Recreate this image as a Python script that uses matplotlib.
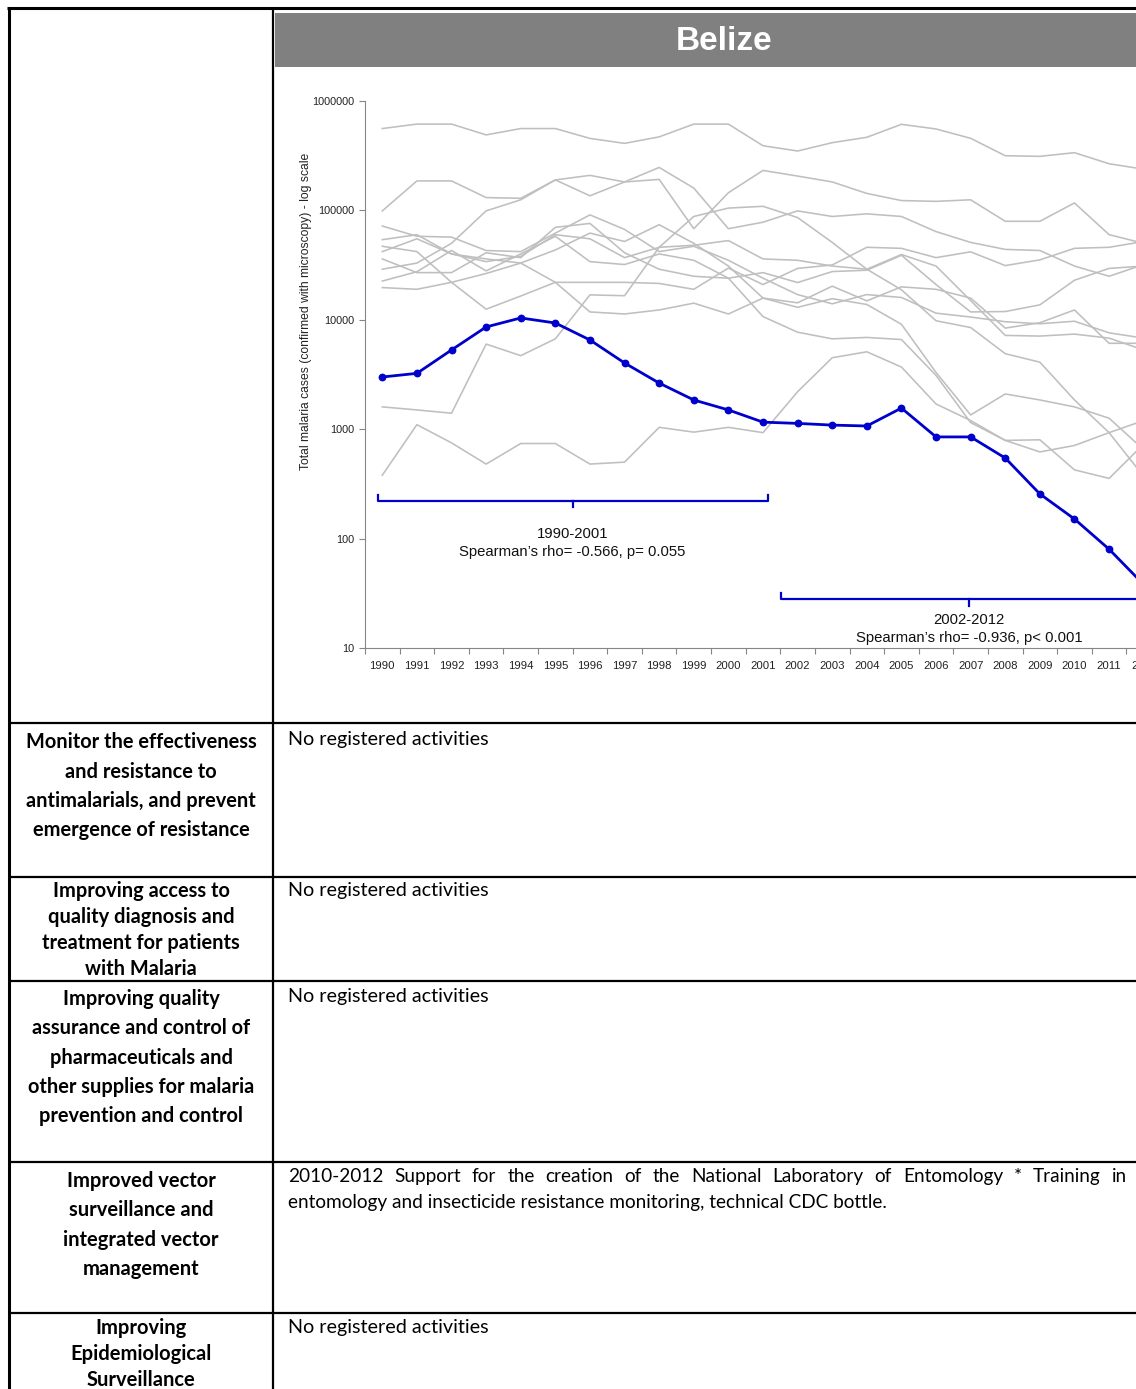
import numpy as np
import matplotlib.pyplot as plt
from matplotlib.patches import Rectangle

W, H = 1136, 1389

years = list(range(1990, 2013))

# Belize, confirmed malaria cases
belize = [3000, 3240, 5300, 8600, 10400, 9350, 6540, 4030, 2640, 1850, 1500, 1160,
          1130, 1090, 1070, 1560, 850, 850, 545, 256, 151, 80, 38]

# other countries of the region (grey background lines)
brazil = [560000, 615000, 615000, 490000, 560000, 560000, 455000, 410000, 470000, 615000, 615000, 390000,
          349000, 416000, 466000, 612000, 555000, 456000, 316000, 312000, 337000, 267000, 238000]
colombia = [99000, 186000, 186000, 131000, 129000, 190000, 136000, 182000, 192000, 68000, 145000, 232000,
            206000, 182000, 143000, 123000, 121000, 125000, 79500, 79500, 117000, 60000, 50000]
peru = [29000, 33000, 50000, 99000, 125000, 190000, 209000, 182000, 247000, 160000, 68000, 78000,
        99000, 88000, 93000, 88000, 64000, 51000, 44000, 43000, 31000, 25000, 32000]
ecuador = [1600, 1500, 1400, 6000, 4700, 6700, 16900, 16600, 46000, 88000, 105000, 109000,
           86000, 51000, 29000, 18800, 9800, 8500, 4900, 4100, 1850, 930, 370]
venezuela = [47000, 42000, 22000, 12500, 16500, 22000, 22000, 22000, 21500, 19000, 29700, 21000,
             29500, 31700, 46000, 45000, 37000, 41800, 31300, 35300, 45000, 46000, 52000]
guyana = [22600, 27500, 43000, 28000, 40000, 58000, 34000, 32000, 40000, 35000, 24000, 27000,
          21900, 27600, 28400, 38900, 21000, 11800, 11900, 13700, 23000, 29500, 31000]
bolivia = [19700, 19000, 22000, 26500, 33000, 43500, 62000, 52000, 74000, 50000, 31000, 15800,
           14300, 20300, 14900, 20000, 19000, 15800, 8400, 9400, 12300, 6100, 6100]
honduras = [72000, 58000, 57000, 43000, 42000, 62000, 91000, 67000, 42000, 47000, 35000, 24000,
            17000, 14000, 17000, 16000, 11500, 10600, 9600, 9200, 9700, 7600, 6800]
guatemala = [42000, 55000, 40000, 34000, 38000, 60000, 55000, 37000, 46000, 48000, 53000, 36000,
             35000, 31000, 29000, 39500, 31000, 15000, 7200, 7100, 7400, 6800, 5300]
nicaragua = [36000, 27000, 27000, 41000, 37000, 70000, 76000, 41000, 29000, 25000, 24000, 10700,
             7700, 6700, 6900, 6600, 3100, 1150, 790, 620, 710, 930, 1200]
suriname = [54000, 60000, 40000, 36000, 33000, 22000, 11800, 11300, 12300, 14200, 11300, 15800,
            13000, 15600, 13800, 9100, 3300, 1350, 2100, 1850, 1600, 1260, 650]
panama = [380, 1100, 750, 480, 740, 740, 480, 500, 1040, 940, 1040, 930,
          2200, 4500, 5100, 3700, 1700, 1200, 790, 800, 425, 355, 730]

grey_lines = [brazil, colombia, peru, ecuador, venezuela, guyana, bolivia,
              honduras, guatemala, nicaragua, suriname, panama]

country = "Belize"
ylabel = "Total malaria cases (confirmed with microscopy) - log scale"
period1 = ("1990-2001", "Spearman\u2019s rho= -0.566, p= 0.055")
period2 = ("2002-2012", "Spearman\u2019s rho= -0.936, p< 0.001")

objectives = [
    ["Monitor the effectiveness", "and resistance to", "antimalarials, and prevent", "emergence of resistance"],
    ["Improving access to", "quality diagnosis and", "treatment for patients", "with Malaria"],
    ["Improving quality", "assurance and control of", "pharmaceuticals and", "other supplies for malaria",
     "prevention and control"],
    ["Improved vector", "surveillance and", "integrated vector", "management"],
    ["Improving", "Epidemiological", "Surveillance"],
]
activities = [
    ["No registered activities"],
    ["No registered activities"],
    ["No registered activities"],
    ["2010-2012 Support for the creation of the National Laboratory of Entomology * Training in",
     "entomology and insecticide resistance monitoring, technical CDC bottle."],
    ["No registered activities"],
]

fig = plt.figure(figsize=(W / 100, H / 100), dpi=100)

# page layer in pixel units for the table
pg = fig.add_axes([0, 0, 1, 1])
pg.set_xlim(0, W)
pg.set_ylim(H, 0)
pg.axis("off")

pg.add_patch(Rectangle((275, 13), W - 275, 54, color="#808080", lw=0))
pg.text(724, 41, country, ha="center", va="center", color="white", fontsize=24,
        fontweight="bold", family="Liberation Sans")

rows_y = [723, 877, 981, 1162, 1313]
pg.plot([7, W], [8, 8], color="black", lw=2.2, solid_capstyle="butt")
pg.plot([9, 9], [7, H], color="black", lw=2.2, solid_capstyle="butt")
pg.plot([273, 273], [8, H], color="black", lw=1.6, solid_capstyle="butt")
for y in rows_y:
    pg.plot([9, W], [y, y], color="black", lw=1.6, solid_capstyle="butt")

fam = ["Lato", "DejaVu Sans"]

# left column: objectives (bold, centred)
line_gap = [29.5, 26, 29.3, 29.3, 26]
first_y = [742, 891, 999, 1181, 1328]
obj_size = [14.4, 14.4, 14.4, 14.5, 14.5]
for i, lines in enumerate(objectives):
    for k, s in enumerate(lines):
        pg.text(141, first_y[i] + k * line_gap[i], s, ha="center", va="center",
                fontsize=obj_size[i], fontweight="bold", family=fam)

# right column: activities, placed on a common baseline
fig.canvas.draw()
rend = fig.canvas.get_renderer()
act_y = [740, 891, 997, 1177, 1328]
for i, lines in enumerate(activities):
    size = 13.7 if i == 3 else 14.2
    base = size * 100 / 72 * 0.275
    for k, s in enumerate(lines):
        y = act_y[i] + k * 26 + base
        if i == 3 and k == 0:
            # justified line: spread the words between the cell margins
            words = s.split()
            arts = [pg.text(0, y, w, ha="left", va="baseline", fontsize=size, family=fam) for w in words]
            widths = [a.get_window_extent(rend).width for a in arts]
            gap = (1127 - 288 - sum(widths)) / (len(words) - 1)
            x = 288
            for a, wd in zip(arts, widths):
                a.set_x(x)
                x += wd + gap
        else:
            pg.text(288, y, s, ha="left", va="baseline", fontsize=size, family=fam)

# chart
x0, x1, ytop, ybot = 365, 1161, 101, 648
ax = fig.add_axes([x0 / W, 1 - ybot / H, (x1 - x0) / W, (ybot - ytop) / H])
for vals in grey_lines:
    ax.plot(years, vals, color="#BFBFBF", lw=1.15, zorder=2)
ax.plot(years, belize, color="#0000CC", lw=2.0, marker="o", ms=4.6, zorder=3)

ax.set_yscale("log")
ax.set_ylim(10, 1e6)
ax.set_xlim(1989.5, 2012.5)
ax.set_yticks([10, 100, 1000, 10000, 100000, 1000000])
ax.set_yticklabels(["10", "100", "1000", "10000", "100000", "1000000"])
ax.yaxis.set_minor_locator(plt.NullLocator())
ax.set_xticks(np.arange(1989.5, 2013, 1))
ax.set_xticklabels([])
ax.set_xticks(years, minor=True)
ax.set_xticklabels([str(y) for y in years], minor=True)
ax.tick_params(axis="x", which="major", length=4, color="#868686", direction="out")
ax.tick_params(axis="x", which="minor", length=0, pad=9, labelsize=8.2, labelcolor="#222222")
ax.tick_params(axis="y", length=4, color="#868686", labelsize=7.8, labelcolor="#222222", pad=4)
for s in ["top", "right"]:
    ax.spines[s].set_visible(False)
for s in ["left", "bottom"]:
    ax.spines[s].set_color("#868686")
for lab in ax.get_xticklabels(minor=True) + ax.get_yticklabels():
    lab.set_family("Liberation Sans")
ax.set_ylabel(ylabel, fontsize=8.7, family="Liberation Sans", color="#222222")
ax.yaxis.set_label_coords(-0.066, 0.616)

# period brackets with their correlation notes
blue = "#0000CC"
ax.plot([1989.88, 1989.88, 2001.15, 2001.15], [251, 221, 221, 251], color=blue, lw=1.6, clip_on=False)
ax.plot([1995.5, 1995.5], [221, 195], color=blue, lw=1.6)
ax.plot([2001.52, 2001.52, 2012.39, 2012.39], [31.9, 28, 28, 31.9], color=blue, lw=1.6, clip_on=False)
ax.plot([2006.96, 2006.96], [28, 24.2], color=blue, lw=1.6)
note = dict(ha="center", va="center", fontsize=10.7, family="Liberation Sans", color="#111111")
ax.text(1995.5, 110, period1[0], **note)
ax.text(1995.5, 75, period1[1], **note)
ax.text(2006.96, 18, period2[0], **note)
ax.text(2006.96, 12.3, period2[1], **note)

fig.savefig("out.png", dpi=100)
